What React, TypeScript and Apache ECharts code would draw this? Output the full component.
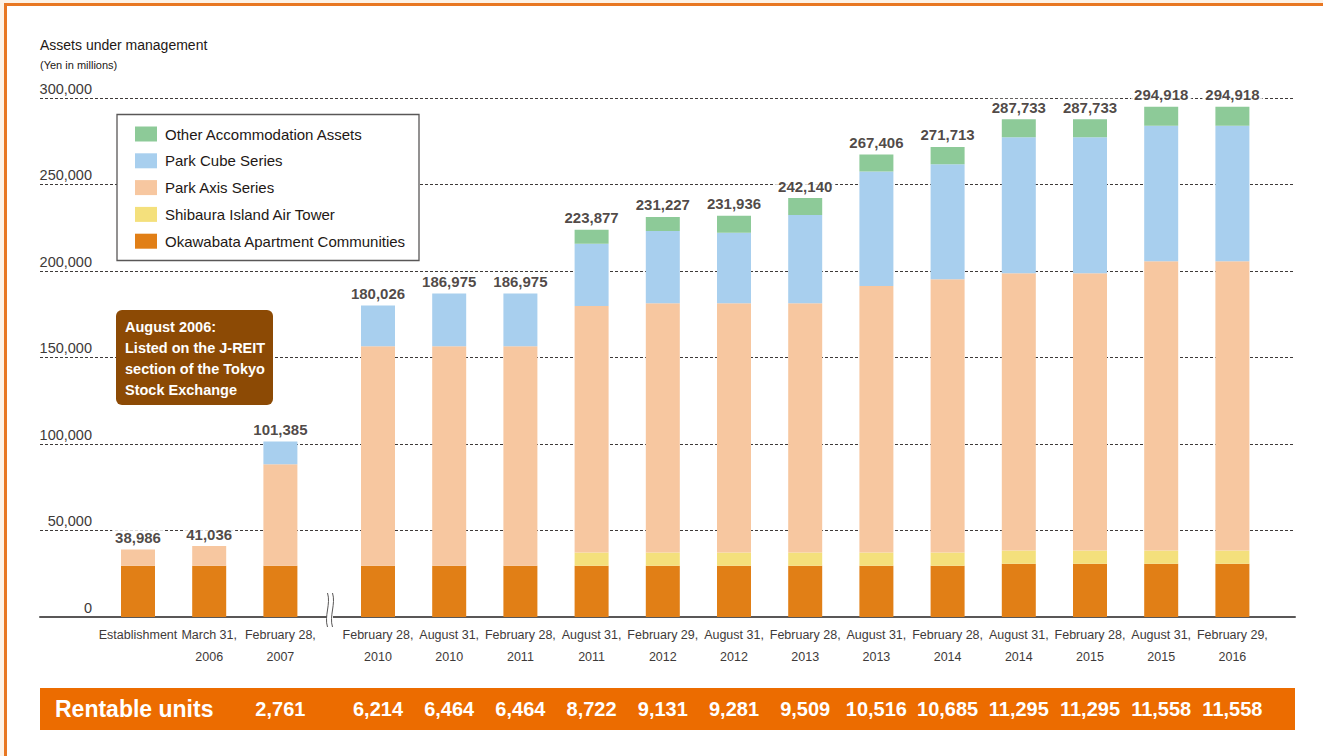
import React, { useEffect, useRef } from 'react';
import * as echarts from 'echarts';

// ---------- data ----------
const categories = [
  'Establishment', 'March 31,\n2006', 'February 28,\n2007',
  'February 28,\n2010', 'August 31,\n2010', 'February 28,\n2011', 'August 31,\n2011',
  'February 29,\n2012', 'August 31,\n2012', 'February 28,\n2013', 'August 31,\n2013',
  'February 28,\n2014', 'August 31,\n2014', 'February 28,\n2015', 'August 31,\n2015',
  'February 29,\n2016',
];
const breakIndex = 3; // axis break after the first three periods

const okawabata = [29696, 29696, 29696, 29696, 29696, 29696, 29696, 29696, 29696, 29696, 29696, 29696, 30850, 30850, 30850, 30850];
const shibaura = [0, 0, 0, 0, 0, 0, 7650, 7650, 7650, 7650, 7650, 7650, 7650, 7650, 7650, 7650];
const parkAxis = [9290, 11340, 58660, 126800, 126800, 126800, 142430, 143990, 143990, 143990, 153980, 157850, 160160, 160160, 167090, 167090];
const parkCube = [0, 0, 13025, 23530, 30480, 30480, 36010, 41810, 40780, 50990, 66260, 66530, 78680, 78680, 78360, 78360];
const otherAssets = [0, 0, 0, 0, 0, 0, 8090, 8090, 9820, 9820, 9820, 9990, 10400, 10400, 10970, 10970];
const totals = [38986, 41036, 101385, 180026, 186975, 186975, 223877, 231227, 231936, 242140, 267406, 271713, 287733, 287733, 294918, 294918];
const rentableUnits = ['', '', '2,761', '6,214', '6,464', '6,464', '8,722', '9,131', '9,281', '9,509', '10,516', '10,685', '11,295', '11,295', '11,558', '11,558'];

const seriesNames = ['Okawabata Apartment Communities', 'Shibaura Island Air Tower', 'Park Axis Series', 'Park Cube Series', 'Other Accommodation Assets'];
const seriesData = [okawabata, shibaura, parkAxis, parkCube, otherAssets];
const seriesColors = ['#e17f16', '#f4e07c', '#f7c7a0', '#a8cfee', '#8dca98'];
const legendOrder = ['Other Accommodation Assets', 'Park Cube Series', 'Park Axis Series', 'Shibaura Island Air Tower', 'Okawabata Apartment Communities'];

const yMax = 300000;
const yStep = 50000;

const FONT = "'Liberation Sans', Arial, sans-serif";
const TEXT = '#231815';
const GRAY = '#3e3a39';

export default function App() {
  const ref = useRef<HTMLDivElement>(null);

  useEffect(() => {
    if (!ref.current) return;
    const chart = echarts.init(ref.current, undefined, { renderer: 'svg' });

    const top = 98;
    const bottom = 756 - 617;
    const band = 71.2;
    const left1 = 102.4;
    const left2 = 342.4;
    const groups = [
      { from: 0, to: breakIndex, left: left1 },
      { from: breakIndex, to: categories.length, left: left2 },
    ];

    const grids: any[] = [{ left: 40, right: 28, top, bottom }];
    groups.forEach((g) => {
      grids.push({ left: g.left, width: band * (g.to - g.from), top, bottom });
    });

    const xAxes: any[] = [
      {
        gridIndex: 0, type: 'value', min: 0, max: 1, position: 'bottom',
        axisLine: { show: true, onZero: false, lineStyle: { color: '#595757', width: 2 } },
        axisTick: { show: false }, axisLabel: { show: false }, splitLine: { show: false },
      },
    ];
    groups.forEach((g, i) => {
      xAxes.push({
        gridIndex: i + 1, type: 'category', data: categories.slice(g.from, g.to),
        axisLine: { show: false }, axisTick: { show: false },
        axisLabel: {
          interval: 0, margin: 7, fontSize: 12.5, lineHeight: 22, color: GRAY,
          fontFamily: FONT, align: 'center',
        },
      });
    });
    groups.forEach((g, i) => {
      xAxes.push({
        gridIndex: i + 1, type: 'category', data: rentableUnits.slice(g.from, g.to),
        position: 'bottom', offset: 92, z: 10,
        axisLine: { show: false }, axisTick: { show: false },
        axisLabel: {
          interval: 0, margin: 0, fontSize: 20, fontWeight: 'bold', color: '#ffffff',
          fontFamily: FONT, verticalAlign: 'middle',
        },
      });
    });

    const yAxes: any[] = [
      {
        gridIndex: 0, type: 'value', min: 0, max: yMax, interval: yStep,
        axisLine: { show: false }, axisTick: { show: false },
        axisLabel: {
          inside: true, margin: 52, align: 'right', verticalAlign: 'bottom',
          fontSize: 14.5, color: GRAY, fontFamily: FONT, padding: [0, 0, 2, 0],
          formatter: (v: number) => v.toLocaleString('en-US'),
        },
        splitLine: { show: true, showMinLine: false, lineStyle: { color: GRAY, width: 1, type: [3, 2] } },
      },
    ];
    groups.forEach((_, i) => {
      yAxes.push({ gridIndex: i + 1, type: 'value', min: 0, max: yMax, show: false });
    });

    const series: any[] = [];
    groups.forEach((g, gi) => {
      seriesNames.forEach((name, si) => {
        series.push({
          name, type: 'bar', stack: 'stack' + gi, barWidth: 34,
          xAxisIndex: gi + 1, yAxisIndex: gi + 1,
          itemStyle: { color: seriesColors[si] },
          data: seriesData[si].slice(g.from, g.to),
          silent: true,
        });
      });
      series.push({
        name: 'total' + gi, type: 'scatter', xAxisIndex: gi + 1, yAxisIndex: gi + 1,
        symbolSize: 1, itemStyle: { color: 'rgba(0,0,0,0)' }, silent: true, z: 5,
        data: totals.slice(g.from, g.to),
        label: {
          show: true, position: 'top', distance: 3, fontSize: 15, fontWeight: 'bold',
          color: TEXT, fontFamily: FONT, backgroundColor: '#ffffff', padding: [1, 3, 1, 3],
          formatter: (p: any) => Number(Array.isArray(p.value) ? p.value[1] : p.value).toLocaleString('en-US'),
        },
      });
    });

    const graphic: any[] = [
      { type: 'text', x: 40, y: 45, z: 5, style: { text: 'Assets under management', fontSize: 14, fontFamily: FONT, fill: TEXT, verticalAlign: 'middle' } },
      { type: 'text', x: 40, y: 65, z: 5, style: { text: '(Yen in millions)', fontSize: 11, fontFamily: FONT, fill: TEXT, verticalAlign: 'middle' } },
      // legend box
      { type: 'rect', z: 3, shape: { x: 117, y: 114.5, width: 302, height: 146 }, style: { fill: '#ffffff', stroke: '#595757', lineWidth: 1.3 } },
      // annotation
      { type: 'rect', z: 3, shape: { x: 116, y: 310, width: 157, height: 95, r: 6 }, style: { fill: '#8c4a05' } },
      {
        type: 'text', z: 4, x: 125, y: 316.5,
        style: {
          text: 'August 2006:\nListed on the J-REIT\nsection of the Tokyo\nStock Exchange',
          fontSize: 14.5, fontWeight: 'bold', fontFamily: FONT, fill: '#ffffff', lineHeight: 21, verticalAlign: 'top',
        },
      },
      // rentable units band
      { type: 'rect', z: 3, shape: { x: 40, y: 688, width: 1255, height: 42 }, style: { fill: '#ec6c00' } },
      { type: 'text', z: 6, x: 55, y: 709, style: { text: 'Rentable units', fontSize: 23, fontWeight: 'bold', fontFamily: FONT, fill: '#ffffff', verticalAlign: 'middle' } },
      // axis break
      { type: 'rect', z: 6, shape: { x: 327, y: 613, width: 6, height: 8 }, style: { fill: '#ffffff' } },
      { type: 'bezierCurve', z: 7, shape: { x1: 327.5, y1: 593, x2: 327.5, y2: 627, cpx1: 331, cpy1: 604, cpx2: 324, cpy2: 616 }, style: { stroke: '#595757', lineWidth: 1, fill: null } },
      { type: 'bezierCurve', z: 7, shape: { x1: 332.5, y1: 593, x2: 332.5, y2: 627, cpx1: 336, cpy1: 604, cpx2: 329, cpy2: 616 }, style: { stroke: '#595757', lineWidth: 1, fill: null } },
    ];

    chart.setOption({
      animation: false,
      backgroundColor: 'transparent',
      grid: grids,
      xAxis: xAxes,
      yAxis: yAxes,
      legend: {
        data: legendOrder.map((n) => ({ name: n, icon: 'rect' })),
        orient: 'vertical', left: 135, top: 126.5, padding: 0,
        itemWidth: 22, itemHeight: 15, itemGap: 11.8,
        selectedMode: false,
        textStyle: { fontSize: 15, color: TEXT, fontFamily: FONT, padding: [0, 0, 0, 3] },
      },
      graphic,
      series,
    });

    return () => chart.dispose();
  }, []);

  return (
    <div style={{ position: 'fixed', left: 0, top: 0, width: 1323, height: 756, overflow: 'hidden', background: '#fdf2e6' }}>
      <div style={{ position: 'absolute', left: 3.5, top: 3, width: 1400, height: 800, background: '#ffffff', borderTop: '3px solid #e87722', borderLeft: '3px solid #e87722' }} />
      <div ref={ref} style={{ position: 'absolute', left: 0, top: 0, width: 1323, height: 756 }} />
    </div>
  );
}
